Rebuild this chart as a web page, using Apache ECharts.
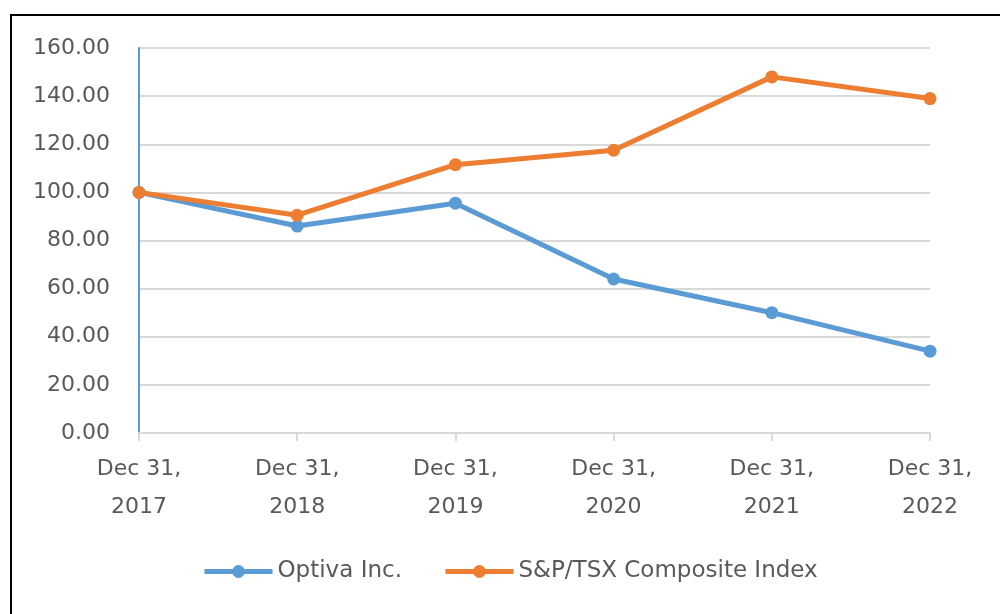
<!DOCTYPE html>
<html>
<head>
<meta charset="utf-8">
<script src="https://cdn.jsdelivr.net/npm/echarts@6/dist/echarts.min.js"></script>
<style>
  html, body { margin: 0; padding: 0; background: #fff; }
  #chart { width: 1000px; height: 614px; }
</style>
</head>
<body>
<div id="chart"></div>
<script>
// data
var categories = ["Dec 31,\n2017", "Dec 31,\n2018", "Dec 31,\n2019", "Dec 31,\n2020", "Dec 31,\n2021", "Dec 31,\n2022"];
var optiva = [100.00, 86.00, 95.50, 64.00, 50.00, 34.00];
var tsx = [100.00, 90.50, 111.50, 117.50, 148.00, 139.00];
var seriesNames = ["Optiva Inc.", "S&P/TSX Composite Index"];

var myChart = echarts.init(document.getElementById("chart"));
var font = "DejaVu Sans, Verdana, sans-serif";

myChart.setOption({
  color: ["#5B9BD5", "#ED7D31"],
  animation: false,
  // outer frame, only its top and left edges fall inside the picture
  graphic: [
    {
      type: "rect",
      shape: { x: 11, y: 15, width: 1100, height: 700 },
      style: { fill: "none", stroke: "#000", lineWidth: 2 }
    }
  ],
  grid: {
    left: 139,
    right: 70,
    top: 48,
    bottom: 181
  },
  legend: {
    top: 555,
    left: 197,
    itemWidth: 68,
    itemHeight: 16,
    itemGap: 41,
    lineStyle: { width: 5 },
    textStyle: { fontFamily: font, fontSize: 23, color: "#595959" },
    data: seriesNames
  },
  xAxis: {
    type: "category",
    boundaryGap: false,
    data: categories,
    axisLine: { lineStyle: { color: "#d9d9d9", width: 2 } },
    axisTick: { show: true, length: 8, lineStyle: { color: "#d9d9d9", width: 2 } },
    axisLabel: {
      fontFamily: font,
      fontSize: 22,
      color: "#595959",
      lineHeight: 38,
      margin: 17
    }
  },
  yAxis: {
    type: "value",
    min: 0,
    max: 160,
    interval: 20,
    axisLine: { show: true, lineStyle: { color: "#5B9BD5", width: 2 } },
    axisTick: { show: false },
    splitLine: { lineStyle: { color: "#d9d9d9", width: 2 } },
    axisLabel: {
      fontFamily: font,
      fontSize: 22,
      color: "#595959",
      margin: 29,
      formatter: function (v) { return v.toFixed(2); }
    }
  },
  series: [
    {
      name: seriesNames[0],
      type: "line",
      data: optiva,
      symbol: "circle",
      symbolSize: 13,
      lineStyle: { width: 5 }
    },
    {
      name: seriesNames[1],
      type: "line",
      data: tsx,
      symbol: "circle",
      symbolSize: 13,
      lineStyle: { width: 5 }
    }
  ]
});
</script>
</body>
</html>
